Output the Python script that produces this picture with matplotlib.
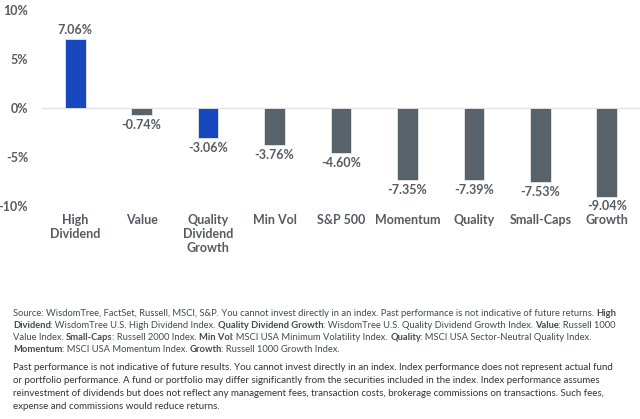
import matplotlib
matplotlib.use('Agg')
import matplotlib.pyplot as plt
import numpy as np

plt.rcParams.update({
    "font.family": ["Lato", "DejaVu Sans"],
    "font.size": 8,
})

categories = ['High\nDividend', 'Value', 'Quality\nDividend\nGrowth', 'Min Vol', 'S&P 500',
              'Momentum', 'Quality', 'Small-Caps', 'Growth']
returns = [7.06, -0.74, -3.06, -3.76, -4.60, -7.35, -7.39, -7.53, -9.04]
highlight = [True, False, True, False, False, False, False, False, False]
yticks = [10, 5, 0, -5, -10]

C_BLUE = '#1747BD'
C_GRAY = '#58626B'
C_TEXT = '#555B61'

fig = plt.figure(figsize=(6.4, 4.19), dpi=100)
# axes: x from 42 to 640 px, y from 10% (y=10px) to -10% (y=206px)
ax = fig.add_axes([42 / 640, 1 - 206 / 419, 598 / 640, 196 / 419])

x = np.arange(len(categories))
colors = [C_BLUE if h else C_GRAY for h in highlight]
ax.bar(x, returns, width=0.31, color=colors, edgecolor='#E8E8E8', linewidth=0.6, zorder=3)
ax.axhline(0, color='#E3E3E3', linewidth=1.0, zorder=1)

for xi, v in zip(x, returns):
    off = 0.95 if v > 0 else -1.0
    ax.text(xi, v + off, f'{v:.2f}%', ha='center', va='center', fontsize=9,
            color=C_TEXT, fontweight='bold')

ax.set_xlim(-0.5, len(categories) - 0.5)
ax.set_ylim(-10, 10)
ax.set_yticks(yticks)
ax.set_yticklabels([f'{t}%' for t in yticks])
ax.tick_params(axis='y', length=0, pad=10, labelsize=9, labelcolor=C_TEXT)
for lab in ax.get_yticklabels():
    lab.set_fontweight('bold')
ax.set_xticks([])
for s in ax.spines.values():
    s.set_visible(False)

for xi, c in zip(x, categories):
    ax.text(xi, -10.85, c, ha='center', va='top', fontsize=9, color=C_TEXT,
            fontweight='bold', linespacing=1.2)

# footnotes with mixed bold runs
para1 = [
    [("Source: WisdomTree, FactSet, Russell, MSCI, S&P. You cannot invest directly in an index. Past performance is not indicative of future returns. ", False), ("High", True)],
    [("Dividend", True), (": WisdomTree U.S. High Dividend Index. ", False), ("Quality Dividend Growth", True),
     (": WisdomTree U.S. Quality Dividend Growth Index. ", False), ("Value", True), (": Russell 1000", False)],
    [("Value Index. ", False), ("Small-Caps", True), (": Russell 2000 Index. ", False), ("Min Vol", True),
     (": MSCI USA Minimum Volatility Index. ", False), ("Quality", True), (": MSCI USA Sector-Neutral Quality Index.", False)],
    [("Momentum", True), (": MSCI USA Momentum Index. ", False), ("Growth", True), (": Russell 1000 Growth Index.", False)],
]
para2 = [
    "Past performance is not indicative of future results. You cannot invest directly in an index. Index performance does not represent actual fund",
    "or portfolio performance. A fund or portfolio may differ significantly from the securities included in the index. Index performance assumes",
    "reinvestment of dividends but does not reflect any management fees, transaction costs, brokerage commissions on transactions. Such fees,",
    "expense and commissions would reduce returns.",
]

fig.canvas.draw()
renderer = fig.canvas.get_renderer()
y0 = 313
for line in para1:
    xpos = 13
    for txt, bold in line:
        t = fig.text(xpos / 640, 1 - y0 / 419, txt, fontsize=6.75, color='#444A50',
                     fontweight='bold' if bold else 'normal', va='center', ha='left')
        bb = t.get_window_extent(renderer)
        xpos += bb.width - (0.8 if bold else 0)
    y0 += 12.3

y0 = 367
for line in para2:
    fig.text(13 / 640, 1 - y0 / 419, line, fontsize=7.0, color='#333333', va='center', ha='left')
    y0 += 13

fig.savefig('out.png', dpi=100)
